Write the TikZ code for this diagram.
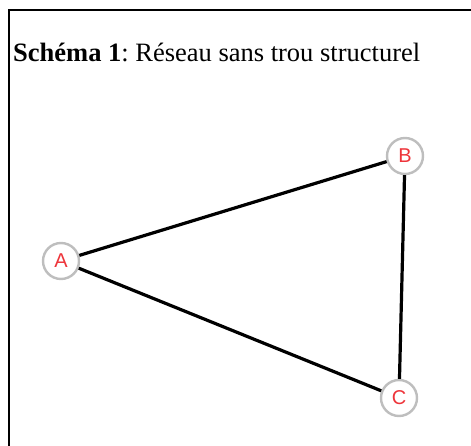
\documentclass[tikz,border=0pt]{standalone}
\usepackage{fontspec}
\setmainfont{Liberation Serif}
\newfontfamily\labelfont{Liberation Sans}
\usetikzlibrary{positioning}
\definecolor{labelred}{RGB}{238,52,58}
\definecolor{ringgray}{RGB}{190,190,190}

\begin{document}
\frenchspacing
\begin{tikzpicture}[x=1pt, y=-1pt,
        actor/.style={draw=ringgray, line width=2.4pt, circle, fill=white, minimum size=36pt, inner sep=0pt, text=labelred, font=\labelfont\fontsize{20}{20}\selectfont},
        tie/.style={line width=3.2pt, black},
        caption/.style={anchor=base west, inner sep=0pt, font=\fontsize{26.5}{27}\selectfont}
    ]
        \useasboundingbox (0,0) rectangle (471,446);

        % Frame (top and left only)
        \draw[line width=2pt] (471,10) -- (9,10) -- (9,446);

        % Title
        \node[caption] (title) at (13,62) {\textbf{Schéma 1}: Réseau sans trou structurel};

        % Actors
        \node[actor] (A) at (61,261) {A};
        \node[actor] (B) at (405,156) {B};
        \node[actor] (C) at (399,398) {C};

        % Ties
        \draw[tie] (A) -- (B);
        \draw[tie] (A) -- (C);
        \draw[tie] (B) -- (C);

    \end{tikzpicture}
\end{document}
